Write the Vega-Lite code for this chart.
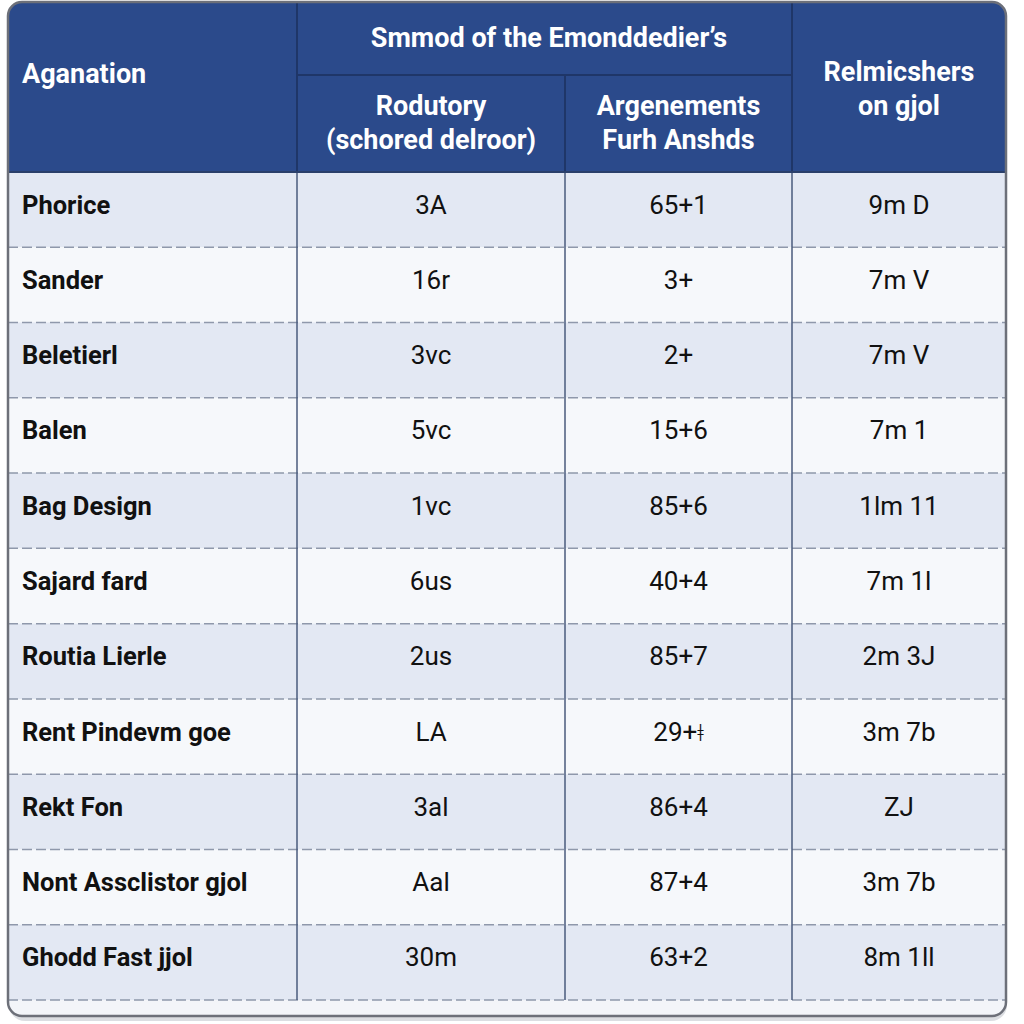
{
  "$schema": "https://vega.github.io/schema/vega-lite/v6.json",
  "width": 1024,
  "height": 1024,
  "autosize": {"type": "fit", "contains": "padding"},
  "padding": 0,
  "background": "#ffffff",
  "config": {"view": {"stroke": null}},
  "datasets": {
    "rows": [
      {"row": 1, "name": "Phorice", "rod": "3A", "arg": "65+1", "rel": "9m D"},
      {"row": 2, "name": "Sander", "rod": "16r", "arg": "3+", "rel": "7m V"},
      {"row": 3, "name": "Beletierl", "rod": "3vc", "arg": "2+", "rel": "7m V"},
      {"row": 4, "name": "Balen", "rod": "5vc", "arg": "15+6", "rel": "7m 1"},
      {"row": 5, "name": "Bag Design", "rod": "1vc", "arg": "85+6", "rel": "1lm 11"},
      {"row": 6, "name": "Sajard fard", "rod": "6us", "arg": "40+4", "rel": "7m 1l"},
      {"row": 7, "name": "Routia Lierle", "rod": "2us", "arg": "85+7", "rel": "2m 3J"},
      {"row": 8, "name": "Rent Pindevm goe", "rod": "LA", "arg": "29+ǂ", "rel": "3m 7b"},
      {"row": 9, "name": "Rekt Fon", "rod": "3al", "arg": "86+4", "rel": "ZJ"},
      {"row": 10, "name": "Nont Assclistor gjol", "rod": "Aal", "arg": "87+4", "rel": "3m 7b"},
      {"row": 11, "name": "Ghodd Fast jjol", "rod": "30m", "arg": "63+2", "rel": "8m 1ll"}
    ],
    "bodyCols": [{"col": 1}, {"col": 2}, {"col": 3}],
    "headCols": [{"col": 1}, {"col": 3}],
    "one": [{}]
  },
  "layer": [
    {
      "data": {"name": "one"},
      "mark": {"type": "rect", "fill": "#9aa0ab", "opacity": 0.35, "cornerRadius": 16, "yOffset": 5, "y2Offset": 5, "xOffset": 1, "x2Offset": 1},
      "encoding": {
        "x": {"datum": 0, "type": "quantitative", "scale": {"type": "linear", "domain": [0, 1, 2, 3, 4], "range": [8, 297, 565, 792, 1006], "nice": false, "zero": false}, "axis": null},
        "x2": {"datum": 4},
        "y": {"datum": -2, "type": "quantitative", "scale": {"type": "linear", "domain": [-2, -1, 0, 11, 12], "range": [2, 75, 172, 1000, 1016], "nice": false, "zero": false}, "axis": null},
        "y2": {"datum": 12}
      }
    },
    {
      "data": {"name": "one"},
      "mark": {"type": "rect", "fill": "#f3f5f9", "cornerRadius": 14},
      "encoding": {
        "x": {"datum": 0, "type": "quantitative", "scale": {"type": "linear", "domain": [0, 1, 2, 3, 4], "range": [8, 297, 565, 792, 1006], "nice": false, "zero": false}, "axis": null},
        "x2": {"datum": 4},
        "y": {"datum": -2, "type": "quantitative", "scale": {"type": "linear", "domain": [-2, -1, 0, 11, 12], "range": [2, 75, 172, 1000, 1016], "nice": false, "zero": false}, "axis": null},
        "y2": {"datum": 12}
      }
    },
    {
      "data": {"name": "one"},
      "mark": {"type": "rect", "fill": "#2b4a8b", "cornerRadiusTopLeft": 14, "cornerRadiusTopRight": 14},
      "encoding": {
        "x": {"datum": 0, "type": "quantitative", "scale": {"type": "linear", "domain": [0, 1, 2, 3, 4], "range": [8, 297, 565, 792, 1006], "nice": false, "zero": false}, "axis": null},
        "x2": {"datum": 4},
        "y": {"datum": -2, "type": "quantitative", "scale": {"type": "linear", "domain": [-2, -1, 0, 11, 12], "range": [2, 75, 172, 1000, 1016], "nice": false, "zero": false}, "axis": null},
        "y2": {"datum": 0}
      }
    },
    {
      "data": {"name": "rows"},
      "transform": [{"calculate": "datum.row - 1", "as": "r0"}, {"calculate": "datum.row % 2", "as": "parity"}],
      "mark": {"type": "rect"},
      "encoding": {
        "x": {"datum": 0, "type": "quantitative", "scale": {"type": "linear", "domain": [0, 1, 2, 3, 4], "range": [8, 297, 565, 792, 1006], "nice": false, "zero": false}, "axis": null},
        "x2": {"datum": 4},
        "y": {"field": "r0", "type": "quantitative", "scale": {"type": "linear", "domain": [-2, -1, 0, 11, 12], "range": [2, 75, 172, 1000, 1016], "nice": false, "zero": false}, "axis": null},
        "y2": {"field": "row"},
        "fill": {"field": "parity", "type": "nominal", "scale": {"domain": [1, 0], "range": ["#e3e8f3", "#f6f8fb"]}, "legend": null}
      }
    },
    {
      "data": {"name": "rows"},
      "mark": {"type": "rule", "color": "#8f98ab", "strokeWidth": 1.5, "strokeDash": [10, 4]},
      "encoding": {
        "x": {"datum": 0, "type": "quantitative", "scale": {"type": "linear", "domain": [0, 1, 2, 3, 4], "range": [8, 297, 565, 792, 1006], "nice": false, "zero": false}, "axis": null},
        "x2": {"datum": 4},
        "y": {"field": "row", "type": "quantitative", "scale": {"type": "linear", "domain": [-2, -1, 0, 11, 12], "range": [2, 75, 172, 1000, 1016], "nice": false, "zero": false}, "axis": null}
      }
    },
    {
      "data": {"name": "bodyCols"},
      "mark": {"type": "rule", "color": "#4a5b7c", "strokeWidth": 1.5},
      "encoding": {
        "x": {"field": "col", "type": "quantitative", "scale": {"type": "linear", "domain": [0, 1, 2, 3, 4], "range": [8, 297, 565, 792, 1006], "nice": false, "zero": false}, "axis": null},
        "y": {"datum": 0, "type": "quantitative", "scale": {"type": "linear", "domain": [-2, -1, 0, 11, 12], "range": [2, 75, 172, 1000, 1016], "nice": false, "zero": false}, "axis": null},
        "y2": {"datum": 11}
      }
    },
    {
      "data": {"name": "headCols"},
      "mark": {"type": "rule", "color": "#1f3668", "strokeWidth": 2},
      "encoding": {
        "x": {"field": "col", "type": "quantitative", "scale": {"type": "linear", "domain": [0, 1, 2, 3, 4], "range": [8, 297, 565, 792, 1006], "nice": false, "zero": false}, "axis": null},
        "y": {"datum": -2, "type": "quantitative", "scale": {"type": "linear", "domain": [-2, -1, 0, 11, 12], "range": [2, 75, 172, 1000, 1016], "nice": false, "zero": false}, "axis": null},
        "y2": {"datum": 0}
      }
    },
    {
      "data": {"name": "one"},
      "mark": {"type": "rule", "color": "#1f3668", "strokeWidth": 2},
      "encoding": {
        "x": {"datum": 2, "type": "quantitative", "scale": {"type": "linear", "domain": [0, 1, 2, 3, 4], "range": [8, 297, 565, 792, 1006], "nice": false, "zero": false}, "axis": null},
        "y": {"datum": -1, "type": "quantitative", "scale": {"type": "linear", "domain": [-2, -1, 0, 11, 12], "range": [2, 75, 172, 1000, 1016], "nice": false, "zero": false}, "axis": null},
        "y2": {"datum": 0}
      }
    },
    {
      "data": {"name": "one"},
      "mark": {"type": "rule", "color": "#1f3668", "strokeWidth": 2},
      "encoding": {
        "x": {"datum": 1, "type": "quantitative", "scale": {"type": "linear", "domain": [0, 1, 2, 3, 4], "range": [8, 297, 565, 792, 1006], "nice": false, "zero": false}, "axis": null},
        "x2": {"datum": 3},
        "y": {"datum": -1, "type": "quantitative", "scale": {"type": "linear", "domain": [-2, -1, 0, 11, 12], "range": [2, 75, 172, 1000, 1016], "nice": false, "zero": false}, "axis": null}
      }
    },
    {
      "data": {"name": "one"},
      "mark": {"type": "rule", "color": "#2a3f6a", "strokeWidth": 2},
      "encoding": {
        "x": {"datum": 0, "type": "quantitative", "scale": {"type": "linear", "domain": [0, 1, 2, 3, 4], "range": [8, 297, 565, 792, 1006], "nice": false, "zero": false}, "axis": null},
        "x2": {"datum": 4},
        "y": {"datum": 0, "type": "quantitative", "scale": {"type": "linear", "domain": [-2, -1, 0, 11, 12], "range": [2, 75, 172, 1000, 1016], "nice": false, "zero": false}, "axis": null}
      }
    },
    {
      "data": {"name": "one"},
      "mark": {"type": "rect", "fillOpacity": 0, "stroke": "#6d7079", "strokeWidth": 2.5, "cornerRadius": 14},
      "encoding": {
        "x": {"datum": 0, "type": "quantitative", "scale": {"type": "linear", "domain": [0, 1, 2, 3, 4], "range": [8, 297, 565, 792, 1006], "nice": false, "zero": false}, "axis": null},
        "x2": {"datum": 4},
        "y": {"datum": -2, "type": "quantitative", "scale": {"type": "linear", "domain": [-2, -1, 0, 11, 12], "range": [2, 75, 172, 1000, 1016], "nice": false, "zero": false}, "axis": null},
        "y2": {"datum": 12}
      }
    },
    {
      "data": {"name": "one"},
      "mark": {"type": "text", "text": "Aganation", "align": "left", "baseline": "middle", "xOffset": 14, "font": "Roboto", "fontWeight": "bold", "fontSize": 27, "color": "#ffffff"},
      "encoding": {
        "x": {"datum": 0, "type": "quantitative", "scale": {"type": "linear", "domain": [0, 1, 2, 3, 4], "range": [8, 297, 565, 792, 1006], "nice": false, "zero": false}, "axis": null},
        "y": {"datum": -1, "type": "quantitative", "scale": {"type": "linear", "domain": [-2, -1, 0, 11, 12], "range": [2, 75, 172, 1000, 1016], "nice": false, "zero": false}, "axis": null}
      }
    },
    {
      "data": {"name": "one"},
      "mark": {"type": "text", "text": "Smmod of the Emonddedier’s", "align": "center", "baseline": "middle", "font": "Roboto", "fontWeight": "bold", "fontSize": 27, "color": "#ffffff"},
      "encoding": {
        "x": {"datum": 1.94, "type": "quantitative", "scale": {"type": "linear", "domain": [0, 1, 2, 3, 4], "range": [8, 297, 565, 792, 1006], "nice": false, "zero": false}, "axis": null},
        "y": {"datum": -1.5, "type": "quantitative", "scale": {"type": "linear", "domain": [-2, -1, 0, 11, 12], "range": [2, 75, 172, 1000, 1016], "nice": false, "zero": false}, "axis": null}
      }
    },
    {
      "data": {"name": "one"},
      "mark": {"type": "text", "text": ["Rodutory", "(schored delroor)"], "lineHeight": 34, "dy": -17, "align": "center", "baseline": "middle", "font": "Roboto", "fontWeight": "bold", "fontSize": 27, "color": "#ffffff"},
      "encoding": {
        "x": {"datum": 1.5, "type": "quantitative", "scale": {"type": "linear", "domain": [0, 1, 2, 3, 4], "range": [8, 297, 565, 792, 1006], "nice": false, "zero": false}, "axis": null},
        "y": {"datum": -0.5, "type": "quantitative", "scale": {"type": "linear", "domain": [-2, -1, 0, 11, 12], "range": [2, 75, 172, 1000, 1016], "nice": false, "zero": false}, "axis": null}
      }
    },
    {
      "data": {"name": "one"},
      "mark": {"type": "text", "text": ["Argenements", "Furh Anshds"], "lineHeight": 34, "dy": -17, "align": "center", "baseline": "middle", "font": "Roboto", "fontWeight": "bold", "fontSize": 27, "color": "#ffffff"},
      "encoding": {
        "x": {"datum": 2.5, "type": "quantitative", "scale": {"type": "linear", "domain": [0, 1, 2, 3, 4], "range": [8, 297, 565, 792, 1006], "nice": false, "zero": false}, "axis": null},
        "y": {"datum": -0.5, "type": "quantitative", "scale": {"type": "linear", "domain": [-2, -1, 0, 11, 12], "range": [2, 75, 172, 1000, 1016], "nice": false, "zero": false}, "axis": null}
      }
    },
    {
      "data": {"name": "one"},
      "mark": {"type": "text", "text": ["Relmicshers", "on gjol"], "lineHeight": 34, "dy": -17, "align": "center", "baseline": "middle", "font": "Roboto", "fontWeight": "bold", "fontSize": 27, "color": "#ffffff"},
      "encoding": {
        "x": {"datum": 3.5, "type": "quantitative", "scale": {"type": "linear", "domain": [0, 1, 2, 3, 4], "range": [8, 297, 565, 792, 1006], "nice": false, "zero": false}, "axis": null},
        "y": {"datum": -0.85, "type": "quantitative", "scale": {"type": "linear", "domain": [-2, -1, 0, 11, 12], "range": [2, 75, 172, 1000, 1016], "nice": false, "zero": false}, "axis": null}
      }
    },
    {
      "data": {"name": "rows"},
      "transform": [{"calculate": "datum.row - 0.5", "as": "yc"}],
      "mark": {"type": "text", "align": "left", "baseline": "middle", "xOffset": 14, "dy": -4, "font": "Roboto", "fontWeight": "bold", "fontSize": 25.5, "color": "#111111"},
      "encoding": {
        "x": {"datum": 0, "type": "quantitative", "scale": {"type": "linear", "domain": [0, 1, 2, 3, 4], "range": [8, 297, 565, 792, 1006], "nice": false, "zero": false}, "axis": null},
        "y": {"field": "yc", "type": "quantitative", "scale": {"type": "linear", "domain": [-2, -1, 0, 11, 12], "range": [2, 75, 172, 1000, 1016], "nice": false, "zero": false}, "axis": null},
        "text": {"field": "name"}
      }
    },
    {
      "data": {"name": "rows"},
      "transform": [{"calculate": "datum.row - 0.5", "as": "yc"}],
      "mark": {"type": "text", "align": "center", "baseline": "middle", "dy": -4, "font": "Roboto", "fontSize": 26, "color": "#111111"},
      "encoding": {
        "x": {"datum": 1.5, "type": "quantitative", "scale": {"type": "linear", "domain": [0, 1, 2, 3, 4], "range": [8, 297, 565, 792, 1006], "nice": false, "zero": false}, "axis": null},
        "y": {"field": "yc", "type": "quantitative", "scale": {"type": "linear", "domain": [-2, -1, 0, 11, 12], "range": [2, 75, 172, 1000, 1016], "nice": false, "zero": false}, "axis": null},
        "text": {"field": "rod"}
      }
    },
    {
      "data": {"name": "rows"},
      "transform": [{"calculate": "datum.row - 0.5", "as": "yc"}],
      "mark": {"type": "text", "align": "center", "baseline": "middle", "dy": -4, "font": "Roboto", "fontSize": 26, "color": "#111111"},
      "encoding": {
        "x": {"datum": 2.5, "type": "quantitative", "scale": {"type": "linear", "domain": [0, 1, 2, 3, 4], "range": [8, 297, 565, 792, 1006], "nice": false, "zero": false}, "axis": null},
        "y": {"field": "yc", "type": "quantitative", "scale": {"type": "linear", "domain": [-2, -1, 0, 11, 12], "range": [2, 75, 172, 1000, 1016], "nice": false, "zero": false}, "axis": null},
        "text": {"field": "arg"}
      }
    },
    {
      "data": {"name": "rows"},
      "transform": [{"calculate": "datum.row - 0.5", "as": "yc"}],
      "mark": {"type": "text", "align": "center", "baseline": "middle", "dy": -4, "font": "Roboto", "fontSize": 26, "color": "#111111"},
      "encoding": {
        "x": {"datum": 3.5, "type": "quantitative", "scale": {"type": "linear", "domain": [0, 1, 2, 3, 4], "range": [8, 297, 565, 792, 1006], "nice": false, "zero": false}, "axis": null},
        "y": {"field": "yc", "type": "quantitative", "scale": {"type": "linear", "domain": [-2, -1, 0, 11, 12], "range": [2, 75, 172, 1000, 1016], "nice": false, "zero": false}, "axis": null},
        "text": {"field": "rel"}
      }
    }
  ]
}
